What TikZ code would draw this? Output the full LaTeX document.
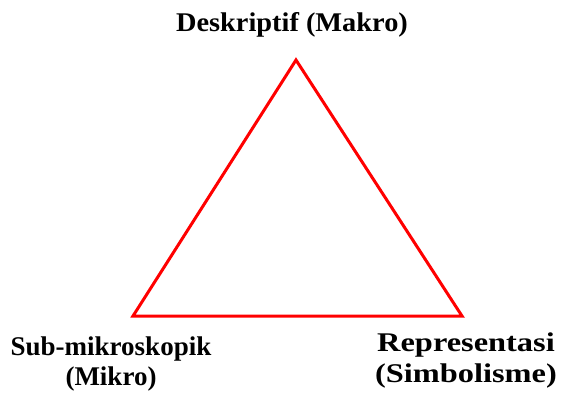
\documentclass[tikz,border=0pt]{standalone}
\usepackage{fontspec}
\setmainfont{Liberation Serif}
\begin{document}
\begin{tikzpicture}[x=1pt,y=-1pt,
  lbl/.style={font=\bfseries\fontsize{27}{31}\selectfont, align=center, inner sep=0pt},
  wide/.style={font=\bfseries\fontsize{27}{31}\selectfont\addfontfeature{FakeStretch=#1}},
  edge/.style={draw=red, line width=3pt, line join=miter}]
  \useasboundingbox (0,0) rectangle (566,392);
  \coordinate (top) at (296,60);
  \coordinate (left) at (133,316);
  \coordinate (right) at (462,316);
  \draw[edge] (top) -- (left) -- (right) -- cycle;
  \node[lbl, wide=1.05] (makro) at (292,25) {Deskriptif (Makro)};
  \node[lbl] (mikro) at (111,364) {Sub-mikroskopik\\(Mikro)};
  \node[lbl, wide=1.2] (simbol) at (466,360) {Representasi\\(Simbolisme)};
\end{tikzpicture}
\end{document}
